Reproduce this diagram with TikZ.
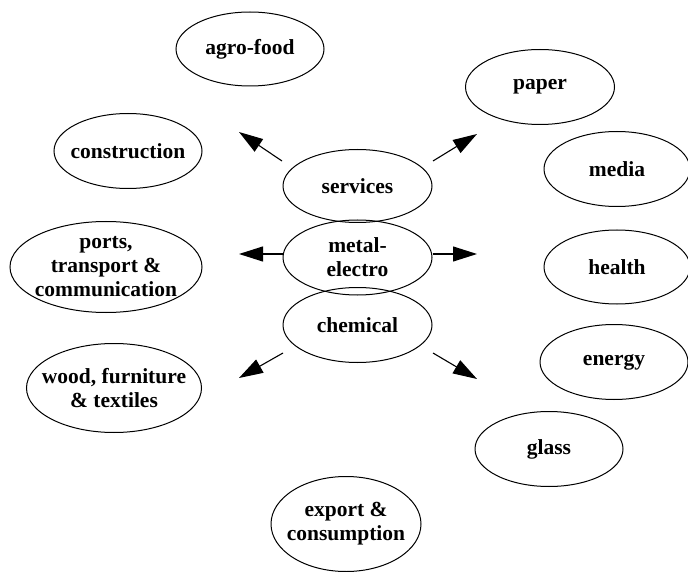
\documentclass[tikz,border=0pt]{standalone}
\usepackage{fontspec}
\setmainfont{Liberation Serif}
\usetikzlibrary{shapes.geometric,arrows.meta}
\tikzset{
  sector/.style={draw, ellipse, line width=1pt, inner sep=0pt},
  every label/.style={align=center, inner sep=0pt,
    font=\bfseries\fontsize{21.5}{24}\selectfont},
  flow/.style={line width=1.1pt, -{Triangle[length=24pt,width=15pt]}}
}
\begin{document}
\begin{tikzpicture}[x=1pt,y=-1pt]
\useasboundingbox (0,0) rectangle (688,572);
\node[sector, minimum width=148pt, minimum height=74pt, label={center:agro-food}] (agro) at (250,49) {};
\node[sector, minimum width=148pt, minimum height=75pt, label={center:construction}] (constr) at (128,151) {};
\node[sector, minimum width=149pt, minimum height=75pt, label={center:paper}] (paper) at (540,87) {};
\node[sector, minimum width=146pt, minimum height=75pt, label={center:media}] (media) at (617,169) {};
\node[sector, minimum width=149pt, minimum height=73pt, label={center:services}] (serv) at (357.5,186) {};
\node[sector, minimum width=149pt, minimum height=75pt, label={center:metal-\\electro}] (metal) at (357.5,257.5) {};
\node[sector, minimum width=149pt, minimum height=75pt, label={center:chemical}] (chem) at (357.5,325) {};
\node[sector, minimum width=192pt, minimum height=91pt, label={center:ports,\\transport \&\\communication}] (ports) at (106,267) {};
\node[sector, minimum width=146pt, minimum height=74pt, label={center:health}] (health) at (617,267) {};
\node[sector, minimum width=148pt, minimum height=75pt, label={center:energy}] (energy) at (614,362) {};
\node[sector, minimum width=175pt, minimum height=89pt, label={center:wood, furniture\\\& textiles}] (wood) at (114,388) {};
\node[sector, minimum width=148pt, minimum height=75pt, label={center:glass}] (glass) at (549,449) {};
\node[sector, minimum width=150pt, minimum height=95pt, label={center:export \&\\consumption}] (export) at (346,524) {};
\coordinate (s1) at (282,161); \coordinate (t1) at (239,132);
\coordinate (s2) at (433,161); \coordinate (t2) at (477,134);
\coordinate (s3) at (283,254); \coordinate (t3) at (239,254);
\coordinate (s4) at (433,254); \coordinate (t4) at (477,254);
\coordinate (s5) at (283,353); \coordinate (t5) at (239,378);
\coordinate (s6) at (433,353); \coordinate (t6) at (477,379);
\draw[flow] (s1) -- (t1);
\draw[flow] (s2) -- (t2);
\draw[flow] (s3) -- (t3);
\draw[flow] (s4) -- (t4);
\draw[flow] (s5) -- (t5);
\draw[flow] (s6) -- (t6);
\end{tikzpicture}
\end{document}
